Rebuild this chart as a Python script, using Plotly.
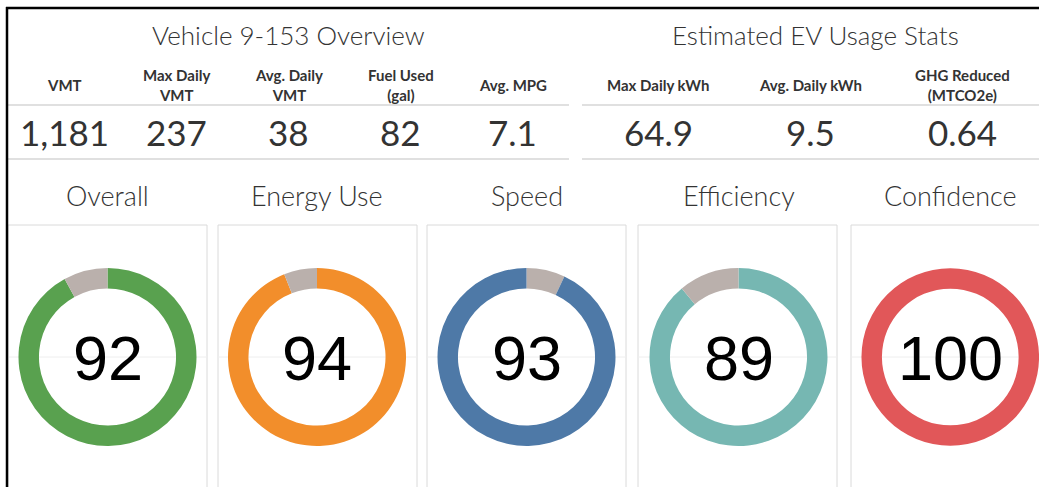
import plotly.graph_objects as go

W, H = 1039, 487

# ---- data ----
section_titles = ["Vehicle 9-153 Overview", "Estimated EV Usage Stats"]
left_labels = ["VMT", "Max Daily<br>VMT", "Avg. Daily<br>VMT", "Fuel Used<br>(gal)", "Avg. MPG"]
left_values = ["1,181", "237", "38", "82", "7.1"]
right_labels = ["Max Daily kWh", "Avg. Daily kWh", "GHG Reduced<br>(MTCO2e)"]
right_values = ["64.9", "9.5", "0.64"]

gauge_names = ["Overall", "Energy Use", "Speed", "Efficiency", "Confidence"]
gauge_scores = [92, 94, 93, 89, 100]
gauge_colors = ["#59A14F", "#F28E2B", "#4E79A7", "#76B7B2", "#E15759"]
gauge_gap_side = ["left", "left", "right", "left", "left"]
remainder_color = "#BAB0AC"

# ---- layout helpers ----
def px(x):
    return min(max(x / W, 0.0), 1.0)

def py(y):
    return 1 - y / H

def pyc(y):
    return min(max(1 - y / H, 0.0), 1.0)

FONT = "Lato, 'Open Sans', sans-serif"
TXT = "#333333"

fig = go.Figure()
annotations = []
shapes = []

# section geometry
left_x0, left_x1 = 8, 569
right_x0, right_x1 = 582, 1039

annotations.append(dict(x=px((left_x0 + left_x1) / 2), y=py(35), text=section_titles[0],
                        font=dict(family=FONT, size=26, color=TXT, weight=300)))
annotations.append(dict(x=px(815), y=py(35), text=section_titles[1],
                        font=dict(family=FONT, size=26, color=TXT, weight=300)))

def kpi_row(labels, values, x0, x1):
    n = len(labels)
    step = (x1 - x0) / n
    for i, (lab, val) in enumerate(zip(labels, values)):
        cx = x0 + step * (i + 0.5)
        annotations.append(dict(x=px(cx), y=py(84.5), text=lab,
                                font=dict(family=FONT, size=15, color=TXT, weight="bold")))
        annotations.append(dict(x=px(cx), y=py(132), text=val,
                                font=dict(family=FONT, size=35, color=TXT)))

kpi_row(left_labels, left_values, left_x0, left_x1)
kpi_row(right_labels, right_values, right_x0, right_x1)

for (a, b) in [(left_x0, left_x1), (right_x0, right_x1)]:
    for yy in (105, 159):
        shapes.append(dict(type="line", xref="paper", yref="paper", x0=px(a), x1=px(b),
                           y0=py(yy), y1=py(yy), line=dict(color="#d6d6d6", width=1.5)))

# gauge panels
box_left = [8, 218, 427, 638, 851]
box_w = 199
box_top = 225
centers = [107.5, 317, 526.5, 738.5, 950.5]
cy = 357
R = 89

for i, name in enumerate(gauge_names):
    bx0 = box_left[i]
    bx1 = bx0 + box_w
    shapes.append(dict(type="rect", xref="paper", yref="paper", x0=bx0 / W, x1=bx1 / W,
                       y0=py(box_top), y1=py(H + 20), line=dict(color="#dadada", width=1),
                       layer="below"))
    shapes.append(dict(type="line", xref="paper", yref="paper", x0=bx0 / W, x1=bx1 / W,
                       y0=py(cy), y1=py(cy), line=dict(color="#eeeeee", width=1), layer="below"))
    cx = centers[i]
    annotations.append(dict(x=px(cx), y=py(196), text=name,
                            font=dict(family=FONT, size=27, color=TXT, weight=300)))
    score = gauge_scores[i]
    if gauge_gap_side[i] == "right":
        vals = [100 - score, score]
        cols = [remainder_color, gauge_colors[i]]
    else:
        vals = [score, 100 - score]
        cols = [gauge_colors[i], remainder_color]
    fig.add_trace(go.Pie(
        values=vals,
        marker=dict(colors=cols, line=dict(width=0)),
        hole=0.77, sort=False, direction="clockwise", rotation=0,
        textinfo="none", hoverinfo="skip", showlegend=False,
        domain=dict(x=[px(cx - R), px(cx + R)], y=[pyc(cy + R), pyc(cy - R)]),
    ))
    annotations.append(dict(x=px(cx), y=py(cy + 1), text=str(score),
                            font=dict(family="'Liberation Sans', Arial, sans-serif", size=63, color="#000000")))

# black frame (top and left)
shapes.append(dict(type="line", xref="paper", yref="paper", x0=6 / W, x1=(W + 5) / W,
                   y0=py(8), y1=py(8), line=dict(color="#000000", width=2.5)))
shapes.append(dict(type="line", xref="paper", yref="paper", x0=7 / W, x1=7 / W,
                   y0=py(7), y1=py(H + 5), line=dict(color="#000000", width=2.5)))

for a in annotations:
    a.update(xref="paper", yref="paper", showarrow=False, xanchor="center", yanchor="middle")

fig.update_layout(
    width=W, height=H,
    margin=dict(l=0, r=0, t=0, b=0),
    paper_bgcolor="white", plot_bgcolor="white",
    annotations=annotations, shapes=shapes,
)

fig.write_html("out.html", config={"displayModeBar": False},
               post_script="document.body.style.margin='0px';document.body.style.overflow='hidden';")
